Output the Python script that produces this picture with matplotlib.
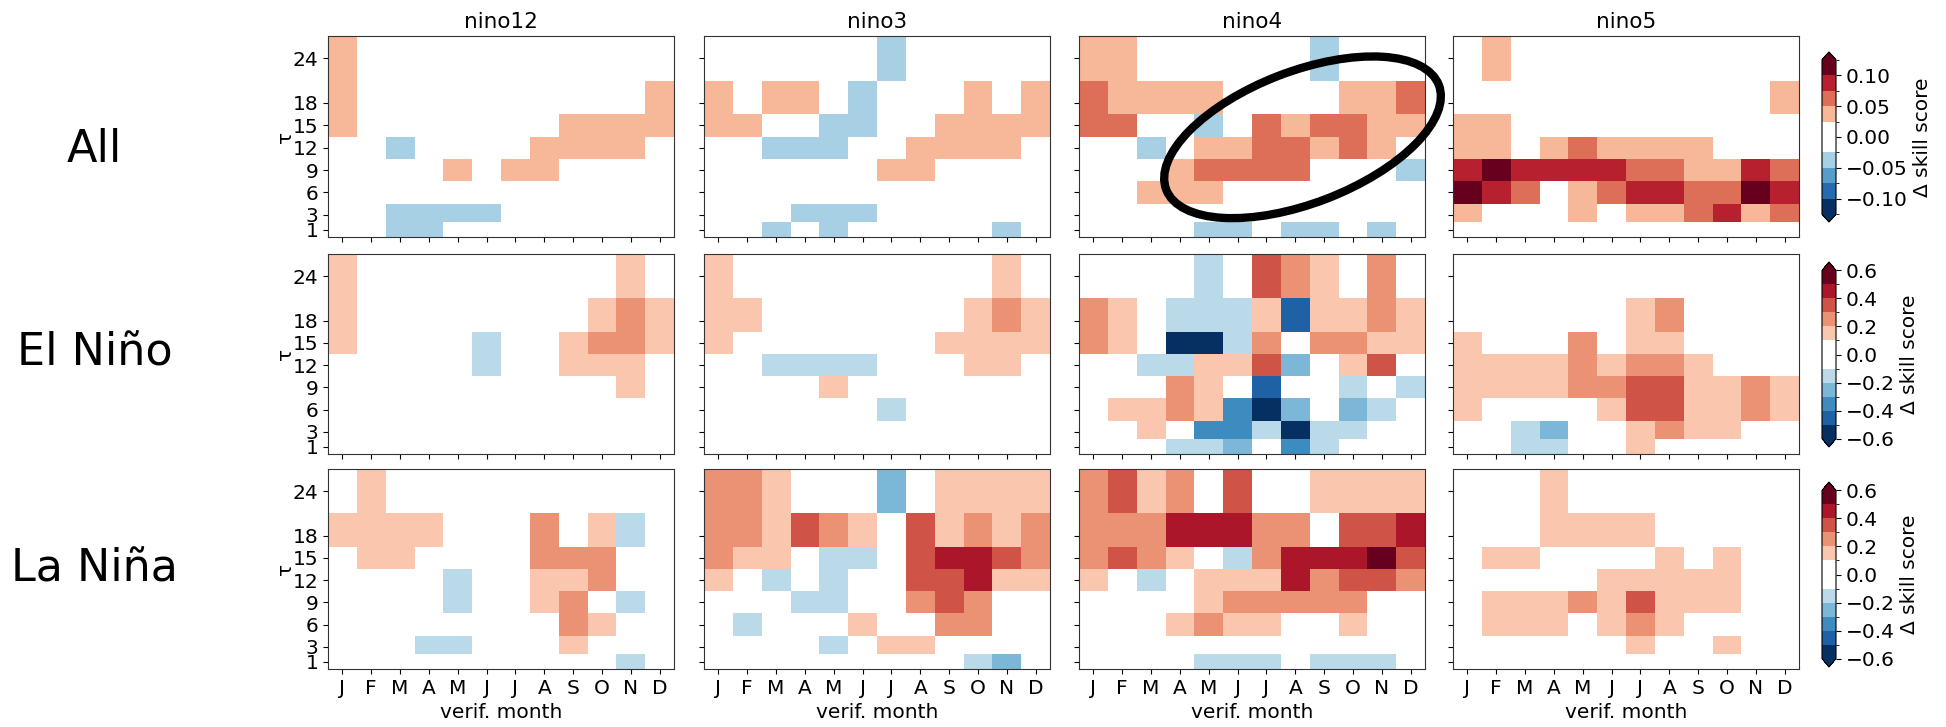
import numpy as np
import matplotlib
matplotlib.use('Agg')
import matplotlib.pyplot as plt
from matplotlib.colors import ListedColormap, BoundaryNorm
from matplotlib.patches import Ellipse
import matplotlib.transforms as mtransforms

# ---------------- data ----------------
months = ['J', 'F', 'M', 'A', 'M', 'J', 'J', 'A', 'S', 'O', 'N', 'D']
month_num = list(range(1, 13))
lags = [1, 3, 6, 9, 12, 15, 18, 24]
regions = ['nino12', 'nino3', 'nino4', 'nino5']
phases = ['All', 'El Niño', 'La Niña']

# each grid: rows tau = 24, 18, 15, 12, 9, 6, 3, 1 (top to bottom); columns J..D
all_nino12 = [
    [.04, 0, 0, 0, 0, 0, 0, 0, 0, 0, 0, 0],
    [.04, 0, 0, 0, 0, 0, 0, 0, 0, 0, 0, .04],
    [.04, 0, 0, 0, 0, 0, 0, 0, .04, .04, .04, .04],
    [0, 0, -.04, 0, 0, 0, 0, .04, .04, .04, .04, 0],
    [0, 0, 0, 0, .04, 0, .04, .04, 0, 0, 0, 0],
    [0, 0, 0, 0, 0, 0, 0, 0, 0, 0, 0, 0],
    [0, 0, -.04, -.04, -.04, -.04, 0, 0, 0, 0, 0, 0],
    [0, 0, -.04, -.04, 0, 0, 0, 0, 0, 0, 0, 0],
]
all_nino3 = [
    [0, 0, 0, 0, 0, 0, -.04, 0, 0, 0, 0, 0],
    [.04, 0, .04, .04, 0, -.04, 0, 0, 0, .04, 0, .04],
    [.04, .04, 0, 0, -.04, -.04, 0, 0, .04, .04, .04, .04],
    [0, 0, -.04, -.04, -.04, 0, 0, .04, .04, .04, .04, 0],
    [0, 0, 0, 0, 0, 0, .04, .04, 0, 0, 0, 0],
    [0, 0, 0, 0, 0, 0, 0, 0, 0, 0, 0, 0],
    [0, 0, 0, -.04, -.04, -.04, 0, 0, 0, 0, 0, 0],
    [0, 0, -.04, 0, -.04, 0, 0, 0, 0, 0, -.04, 0],
]
all_nino4 = [
    [.04, .04, 0, 0, 0, 0, 0, 0, -.04, 0, 0, 0],
    [.06, .04, .04, .04, .04, 0, 0, 0, 0, .04, .04, .06],
    [.06, .06, 0, 0, -.04, 0, .06, .04, .06, .06, .04, .04],
    [0, 0, -.04, 0, .04, .04, .06, .06, .04, .06, .04, 0],
    [0, 0, 0, .04, .06, .06, .06, .06, 0, 0, 0, -.04],
    [0, 0, .04, .04, .04, 0, 0, 0, 0, 0, 0, 0],
    [0, 0, 0, 0, 0, 0, 0, 0, 0, 0, 0, 0],
    [0, 0, 0, 0, -.04, -.04, 0, -.04, -.04, 0, -.04, 0],
]
all_nino5 = [
    [0, .04, 0, 0, 0, 0, 0, 0, 0, 0, 0, 0],
    [0, 0, 0, 0, 0, 0, 0, 0, 0, 0, 0, .04],
    [.04, .04, 0, 0, 0, 0, 0, 0, 0, 0, 0, 0],
    [.04, .04, 0, .04, .06, .04, .04, .04, .04, 0, 0, 0],
    [.09, .11, .09, .09, .09, .09, .06, .06, .04, .04, .09, .06],
    [.11, .09, .06, 0, .04, .06, .09, .09, .06, .06, .11, .09],
    [.04, 0, 0, 0, .04, 0, .04, .04, .06, .09, .04, .06],
    [0, 0, 0, 0, 0, 0, 0, 0, 0, 0, 0, 0],
]
elnino_nino12 = [
    [.15, 0, 0, 0, 0, 0, 0, 0, 0, 0, .15, 0],
    [.15, 0, 0, 0, 0, 0, 0, 0, 0, .15, .25, .15],
    [.15, 0, 0, 0, 0, -.15, 0, 0, .15, .25, .25, .15],
    [0, 0, 0, 0, 0, -.15, 0, 0, .15, .15, .15, 0],
    [0, 0, 0, 0, 0, 0, 0, 0, 0, 0, .15, 0],
    [0, 0, 0, 0, 0, 0, 0, 0, 0, 0, 0, 0],
    [0, 0, 0, 0, 0, 0, 0, 0, 0, 0, 0, 0],
    [0, 0, 0, 0, 0, 0, 0, 0, 0, 0, 0, 0],
]
elnino_nino3 = [
    [.15, 0, 0, 0, 0, 0, 0, 0, 0, 0, .15, 0],
    [.15, .15, 0, 0, 0, 0, 0, 0, 0, .15, .25, .15],
    [.15, 0, 0, 0, 0, 0, 0, 0, .15, .15, .15, .15],
    [0, 0, -.15, -.15, -.15, -.15, 0, 0, 0, .15, .15, 0],
    [0, 0, 0, 0, .15, 0, 0, 0, 0, 0, 0, 0],
    [0, 0, 0, 0, 0, 0, -.15, 0, 0, 0, 0, 0],
    [0, 0, 0, 0, 0, 0, 0, 0, 0, 0, 0, 0],
    [0, 0, 0, 0, 0, 0, 0, 0, 0, 0, 0, 0],
]
elnino_nino4 = [
    [0, 0, 0, 0, -.15, 0, .35, .25, .15, 0, .25, 0],
    [.25, .15, 0, -.15, -.15, -.15, .15, -.45, .15, .15, .25, .15],
    [.25, .15, 0, -.55, -.55, -.15, .25, 0, .25, .25, .15, .15],
    [0, 0, -.15, -.15, .15, .15, .35, -.25, 0, .15, .35, 0],
    [0, 0, 0, .25, .15, 0, -.45, 0, 0, -.15, 0, -.15],
    [0, .15, .15, .25, .15, -.35, -.55, -.25, 0, -.25, -.15, 0],
    [0, 0, .15, 0, -.35, -.35, -.15, -.55, -.15, -.15, 0, 0],
    [0, 0, 0, -.15, -.15, -.25, 0, -.35, -.15, 0, 0, 0],
]
elnino_nino5 = [
    [0, 0, 0, 0, 0, 0, 0, 0, 0, 0, 0, 0],
    [0, 0, 0, 0, 0, 0, .15, .25, 0, 0, 0, 0],
    [.15, 0, 0, 0, .25, 0, .15, .15, 0, 0, 0, 0],
    [.15, .15, .15, .15, .25, .15, .25, .25, .15, 0, 0, 0],
    [.15, .15, .15, .15, .25, .25, .35, .35, .15, .15, .25, .15],
    [.15, 0, 0, 0, 0, .15, .35, .35, .15, .15, .25, .15],
    [0, 0, -.15, -.25, 0, 0, .15, .25, .15, .15, 0, 0],
    [0, 0, -.15, -.15, 0, 0, .15, 0, 0, 0, 0, 0],
]
lanina_nino12 = [
    [0, .15, 0, 0, 0, 0, 0, 0, 0, 0, 0, 0],
    [.15, .15, .15, .15, 0, 0, 0, .25, 0, .15, -.15, 0],
    [0, .15, .15, 0, 0, 0, 0, .25, .25, .25, 0, 0],
    [0, 0, 0, 0, -.15, 0, 0, .15, .15, .25, 0, 0],
    [0, 0, 0, 0, -.15, 0, 0, .15, .25, 0, -.15, 0],
    [0, 0, 0, 0, 0, 0, 0, 0, .25, .15, 0, 0],
    [0, 0, 0, -.15, -.15, 0, 0, 0, .15, 0, 0, 0],
    [0, 0, 0, 0, 0, 0, 0, 0, 0, 0, -.15, 0],
]
lanina_nino3 = [
    [.25, .25, .15, 0, 0, 0, -.25, 0, .15, .15, .15, .15],
    [.25, .25, .15, .35, .25, .15, 0, .35, .15, .25, .15, .25],
    [.25, .15, .15, 0, -.15, -.15, 0, .35, .45, .45, .35, .25],
    [.15, 0, -.15, 0, -.15, 0, 0, .35, .35, .45, .15, .15],
    [0, 0, 0, -.15, -.15, 0, 0, .25, .35, .25, 0, 0],
    [0, -.15, 0, 0, 0, .15, 0, 0, .25, .25, 0, 0],
    [0, 0, 0, 0, -.15, 0, .15, .15, 0, 0, 0, 0],
    [0, 0, 0, 0, 0, 0, 0, 0, 0, -.15, -.25, 0],
]
lanina_nino4 = [
    [.25, .35, .15, .25, 0, .35, 0, 0, .15, .15, .15, .15],
    [.25, .25, .25, .45, .45, .45, .25, .25, 0, .35, .35, .45],
    [.25, .35, .25, .15, 0, -.15, .25, .45, .45, .45, .55, .35],
    [.15, 0, -.15, 0, .15, .15, .15, .45, .25, .35, .35, .25],
    [0, 0, 0, 0, .15, .25, .25, .25, .25, .25, 0, 0],
    [0, 0, 0, .15, .25, .15, .15, 0, 0, .15, 0, 0],
    [0, 0, 0, 0, 0, 0, 0, 0, 0, 0, 0, 0],
    [0, 0, 0, 0, -.15, -.15, -.15, 0, -.15, -.15, -.15, 0],
]
lanina_nino5 = [
    [0, 0, 0, .15, 0, 0, 0, 0, 0, 0, 0, 0],
    [0, 0, 0, .15, .15, .15, .15, 0, 0, 0, 0, 0],
    [0, .15, .15, 0, 0, 0, 0, .15, 0, .15, 0, 0],
    [0, 0, 0, 0, 0, .15, .15, .15, .15, .15, 0, 0],
    [0, .15, .15, .15, .25, .15, .35, .15, .15, .15, 0, 0],
    [0, .15, .15, .15, 0, .15, .25, .15, 0, 0, 0, 0],
    [0, 0, 0, 0, 0, 0, .15, 0, 0, .15, 0, 0],
    [0, 0, 0, 0, 0, 0, 0, 0, 0, 0, 0, 0],
]

grids = [
    [all_nino12, all_nino3, all_nino4, all_nino5],
    [elnino_nino12, elnino_nino3, elnino_nino4, elnino_nino5],
    [lanina_nino12, lanina_nino3, lanina_nino4, lanina_nino5],
]

cb_ticks = [
    [-0.10, -0.05, 0.00, 0.05, 0.10],
    [-0.6, -0.4, -0.2, 0.0, 0.2, 0.4, 0.6],
    [-0.6, -0.4, -0.2, 0.0, 0.2, 0.4, 0.6],
]

# ---------------- styling ----------------
def make_cmap(vmax, step):
    levels = np.round(np.arange(-vmax, vmax + step / 2, step), 4)
    n = len(levels) - 1
    cols = plt.get_cmap('RdBu_r', n)(np.arange(n))
    cols[n // 2 - 1] = [1, 1, 1, 1]
    cols[n // 2] = [1, 1, 1, 1]
    cmap = ListedColormap(cols)
    cmap.set_under(cols[0])
    cmap.set_over(cols[-1])
    norm = BoundaryNorm(levels, n)
    return cmap, norm, levels

scales = [make_cmap(0.125, 0.025), make_cmap(0.6, 0.1), make_cmap(0.6, 0.1)]

FS = 14.5
plt.rcParams['font.size'] = FS
W, H = 1946, 727
fig = plt.figure(figsize=(W / 100, H / 100), dpi=100)

col_left = [328, 704, 1079, 1453]
col_w = 346
row_top = [36, 254, 469]
row_h = [201, 200, 200]
cb_box = [(52, 222), (262, 447), (482, 667)]
row_label_y = [162, 365, 582]

for r in range(3):
    cmap, norm, levels = scales[r]
    for c in range(4):
        ax = fig.add_axes([col_left[c] / W, 1 - (row_top[r] + row_h[r]) / H,
                           col_w / W, row_h[r] / H])
        Z = np.array(grids[r][c])[::-1]
        mesh = ax.pcolormesh(month_num, lags, Z, cmap=cmap, norm=norm,
                             shading='nearest')
        ax.set_xticks(month_num)
        ax.set_yticks(lags)
        if r == 2:
            ax.set_xticklabels(months)
            ax.set_xlabel('verif. month')
        else:
            ax.set_xticklabels([])
        if c == 0:
            ax.set_yticklabels([str(l) for l in lags])
            ax.set_ylabel('τ', labelpad=-2)
        else:
            ax.set_yticklabels([])
        if r == 0:
            ax.set_title(regions[c], fontsize=FS + 1)
        for s in ax.spines.values():
            s.set_color('#333333')
        if r == 0 and c == 2:
            tr = fig.dpi_scale_trans + mtransforms.ScaledTranslation(0.646, 0.496, ax.transAxes)
            ell = Ellipse((0, 0), width=2.92, height=1.32, angle=21,
                          transform=tr, fill=False, ec='black', lw=6,
                          clip_on=False, zorder=10)
            fig.patches.append(ell)
    top, bot = cb_box[r]
    cax = fig.add_axes([1822 / W, 1 - bot / H, 14 / W, (bot - top) / H])
    cb = fig.colorbar(mesh, cax=cax, extend='both', ticks=cb_ticks[r])
    cb.ax.yaxis.set_ticks(levels, minor=True)
    cb.ax.tick_params(which='minor', length=2)
    cb.set_label('Δ skill score', fontsize=FS)
    fig.text(0.0485, 1 - row_label_y[r] / H, phases[r], fontsize=32,
             ha='center', va='baseline')

fig.savefig('out.png', dpi=100)
